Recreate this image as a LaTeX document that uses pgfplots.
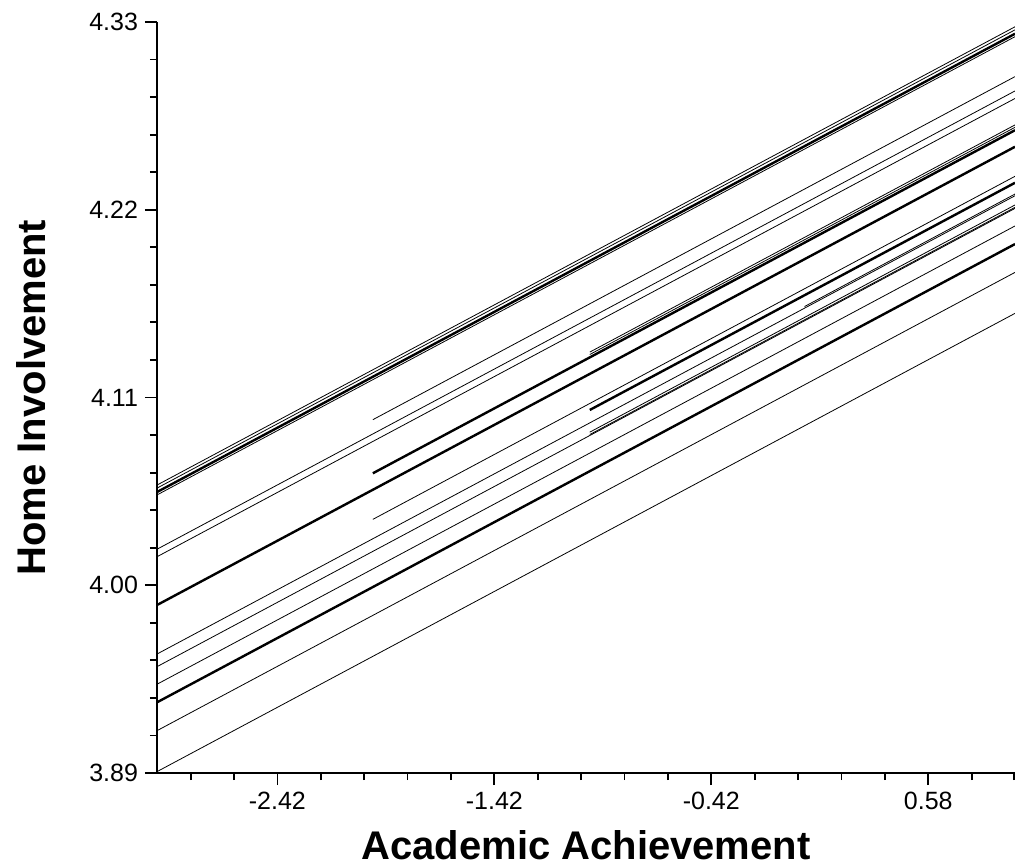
\documentclass[border=0pt]{standalone}
\usepackage{pgfplots}
\pgfplotsset{compat=1.18}
\usepackage{fontspec}
\setmainfont{Liberation Sans}
\begin{document}
\begin{tikzpicture}
\path[use as bounding box] (-78.5pt,-47pt) rectangle (429pt,386.5pt);
\begin{axis}[
  at={(0,0)}, anchor=south west,
  scale only axis, width=429pt, height=375.5pt,
  xmin=-2.975, xmax=0.98, ymin=3.89, ymax=4.33,
  axis x line*=bottom, axis y line*=left,
  axis line style={-, line width=1.1pt, black},
  tick align=outside,
  major tick length=6pt, minor tick length=3.5pt,
  every tick/.style={black, line width=0.9pt},
  xtick={-2.42,-1.42,-0.42,0.58},
  xticklabels={-2.42,-1.42,-0.42,0.58},
  minor xtick={-2.82,-2.62,-2.22,-2.02,-1.82,-1.62,-1.22,-1.02,-0.82,-0.62,-0.22,-0.02,0.18,0.38,0.78,0.975},
  ytick={3.89,4.00,4.11,4.22,4.33},
  yticklabels={3.89,4.00,4.11,4.22,4.33},
  minor ytick={3.912,3.934,3.956,3.978,4.022,4.044,4.066,4.088,4.132,4.154,4.176,4.198,4.242,4.264,4.286,4.308},
  tick label style={font=\fontsize{12.5}{15}\selectfont},
  xlabel={Academic Achievement}, ylabel={Home Involvement},
  label style={font=\fontsize{20}{24}\selectfont\bfseries},
  xlabel style={at={(axis description cs:0.5,-0.1149)}, anchor=base},
  ylabel style={at={(axis description cs:-0.1305,0.5)}, anchor=base},
  cycle list={{black, solid, line width=1.2pt, no markers}},
  clip=true,
]
% lines spanning the whole range
\addplot coordinates {(-2.975,4.0587) (0.98,4.3272)};
\addplot coordinates {(-2.975,4.0569) (0.98,4.3254)};
\addplot coordinates {(-2.975,4.0546) (0.98,4.3231)};
\addplot coordinates {(-2.975,4.0529) (0.98,4.3214)};
\addplot coordinates {(-2.975,4.0211) (0.98,4.2896)};
\addplot coordinates {(-2.975,4.0167) (0.98,4.2852)};
\addplot coordinates {(-2.975,3.9884) (0.98,4.2569)};
\addplot coordinates {(-2.975,3.9597) (0.98,4.2282)};
\addplot coordinates {(-2.975,3.9523) (0.98,4.2208)};
\addplot coordinates {(-2.975,3.9420) (0.98,4.2105)};
\addplot coordinates {(-2.975,3.9314) (0.98,4.1999)};
\addplot coordinates {(-2.975,3.9148) (0.98,4.1833)};
\addplot coordinates {(-2.975,3.8908) (0.98,4.1593)};
% lines starting near -1.98
\addplot coordinates {(-1.98,4.0970) (0.98,4.2980)};
\addplot coordinates {(-1.98,4.0656) (0.98,4.2666)};
\addplot coordinates {(-1.98,4.0386) (0.98,4.2396)};
% lines starting near -0.98
\addplot coordinates {(-0.98,4.1366) (0.98,4.2697)};
\addplot coordinates {(-0.98,4.1352) (0.98,4.2683)};
\addplot coordinates {(-0.98,4.1027) (0.98,4.2358)};
\addplot coordinates {(-0.98,4.0897) (0.98,4.2228)};
\addplot coordinates {(-0.98,4.0883) (0.98,4.2214)};
% line starting near 0.01
\addplot coordinates {(0.01,4.1633) (0.98,4.2292)};
\end{axis}
\end{tikzpicture}
\end{document}
